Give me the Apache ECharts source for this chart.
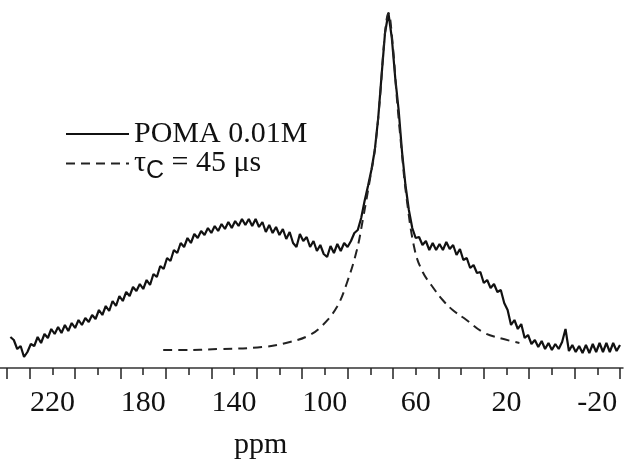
<!DOCTYPE html>
<html>
<head>
<meta charset="utf-8">
<script src="https://cdn.jsdelivr.net/npm/echarts@6/dist/echarts.min.js"></script>
<style>html,body{margin:0;padding:0;background:#fff}#c{width:625px;height:464px}</style>
</head>
<body>
<div id="c"></div>
<script>
// Measured spectrum (ppm, intensity a.u.)
const ppmSolid = [238.5,237,235.5,234,232.5,231,229.5,228,226.5,225,223.5,222,220.5,219,217.5,216,214.5,213,211.5,210,
208.5,207,205.5,204,202.5,201,199.5,198,196.5,195,193.5,192,190.5,189,187.5,186,184.5,183,181.5,180,
178.5,177,175.5,174,172.5,171,169.5,168,166.5,165,163.5,162,160.5,159,157.5,156,154.5,153,151.5,150,
148.5,147,145.5,144,142.5,141,139.5,138,136.5,135,133.5,132,130.5,129,127.5,126,124.5,123,121.5,120,
118.5,117,115.5,114,112.5,111,109.5,108,106.5,105,103.5,102,100.5,99,97.5,96,94.5,93,91.5,90,
88.5,87,85.5,84,82.5,81,79.5,78,76.5,75,73.5,72,70.5,69,67.5,66,64.5,63,61.5,60,
58.5,57,55.5,54,52.5,51,49.5,48,46.5,45,43.5,42,40.5,39,37.5,36,34.5,33,31.5,30,
28.5,27,25.5,24,22.5,21,19.5,18,16.5,15,13.5,12,10.5,9,7.5,6,4.5,3,1.5,0,
-1.5,-3,-4.5,-6,-7.5,-9,-10.5,-12,-13.5,-15,-16.5,-18,-19.5,-21,-22.5,-24,-25.5,-27,-28.5,-30];
const intSolid = [31,28,19,22,11,16,24,22,31,25,34,30,39,34,41,35,43,37,45,40,
48,43,50,46,53,49,58,53,62,57,67,62,72,67,76,72,81,77,84,79,
88,83,94,91,102,99,110,107,118,115,125,121,130,125,134,130,137,133,140,135,
142,137,144,139,146,140,147,142,149,143,149,142,149,141,146,136,143,135,141,133,
139,129,136,125,121,134,127,131,121,127,117,123,114,111,122,115,124,117,125,121,
127,135,138,150,167,182,198,218,250,293,335,355,330,290,258,216,183,158,140,130,
131,123,127,118,125,118,124,118,126,119,123,113,119,108,110,100,103,95,96,85,
88,80,84,76,78,65,58,43,48,39,44,30,33,24,28,21,27,19,25,18,
24,19,26,39,17,23,16,22,15,23,15,24,16,25,16,25,16,25,17,23];
// Fit curve, tau_c = 45 us
const ppmFit = [171.2,163.7,146.2,127.3,115.4,106.6,100.9,94.7,90.3,85.9,83.3,80.2,78.0,75.8,73.6,72.0,
70.1,68.4,66.2,64.0,60.4,56.9,52.5,48.1,43.7,37.6,30.5,23.1,14.3];
const intFit = [18,18,19,21,26,33,43,61,85,118,148,188,218,268,333,355,
323,273,218,170,118,96,81,68,58,48,36,30,25];
const tickLabels = [220,180,140,100,60,20,-20];
const seriesNames = ['POMA 0.01M', 'τC = 45 μs'];

const pair = (xs, ys) => xs.map((x, i) => [x, ys[i]]);
const chart = echarts.init(document.getElementById('c'), null, {renderer: 'canvas'});
const serif = 'Liberation Serif';
chart.setOption({
  animation: false,
  backgroundColor: '#fff',
  grid: [
    {left: 7, right: 5, top: 8, bottom: 96, outerBoundsMode: 'none', containLabel: false},
    {left: 0, right: 2, top: 8, bottom: 96, outerBoundsMode: 'none', containLabel: false}
  ],
  xAxis: [{
    type: 'value', gridIndex: 0, min: -30, max: 240, interval: 20, inverse: true,
    axisLine: {show: false},
    axisTick: {show: true, length: 11, lineStyle: {color: '#222', width: 1.5}},
    minorTick: {show: true, splitNumber: 2, length: 7, lineStyle: {color: '#222', width: 1.5}},
    splitLine: {show: false}, minorSplitLine: {show: false},
    axisLabel: {
      show: true, customValues: tickLabels, hideOverlap: false,
      margin: 20, fontSize: 30, fontFamily: serif, color: '#111'
    }
  }, {
    type: 'value', gridIndex: 1, min: 0, max: 1,
    axisLine: {show: true, onZero: false, lineStyle: {color: '#333', width: 1.5}},
    axisTick: {show: false}, axisLabel: {show: false}, splitLine: {show: false}
  }],
  yAxis: [
    {type: 'value', gridIndex: 0, min: 0, max: 360, show: false},
    {type: 'value', gridIndex: 1, min: 0, max: 1, show: false}
  ],
  legend: {
    orient: 'vertical', left: 60, top: 114, itemWidth: 63, itemHeight: 14, itemGap: -6,
    data: seriesNames,
    itemStyle: {opacity: 0},
    textStyle: {
      fontSize: 30, fontFamily: serif, color: '#111', lineHeight: 26,
      rich: {
        t: {fontSize: 30, fontFamily: serif, color: '#111', lineHeight: 26},
        c: {fontSize: 25, fontFamily: 'Liberation Sans', color: '#111', lineHeight: 10, padding: [16, 0, 0, 0]}
      }
    },
    formatter: n => n === seriesNames[1] ? '{t|τ}{c|C}{t| = 45 μs}' : n
  },
  graphic: [{
    type: 'text', left: 234, top: 430,
    style: {text: 'ppm', fontSize: 30, fontFamily: serif, fill: '#111'}
  }],
  series: [{
    name: seriesNames[0], type: 'line', xAxisIndex: 0, yAxisIndex: 0,
    data: pair(ppmSolid, intSolid), showSymbol: false, symbol: 'none',
    lineStyle: {color: '#111', width: 2.2, type: 'solid'}, itemStyle: {color: '#111'}
  }, {
    name: seriesNames[1], type: 'line', xAxisIndex: 0, yAxisIndex: 0,
    data: pair(ppmFit, intFit), showSymbol: false, symbol: 'none', smooth: 0.4,
    lineStyle: {color: '#222', width: 2, type: [9, 6]}, itemStyle: {color: '#222'}
  }]
});
</script>
</body>
</html>
